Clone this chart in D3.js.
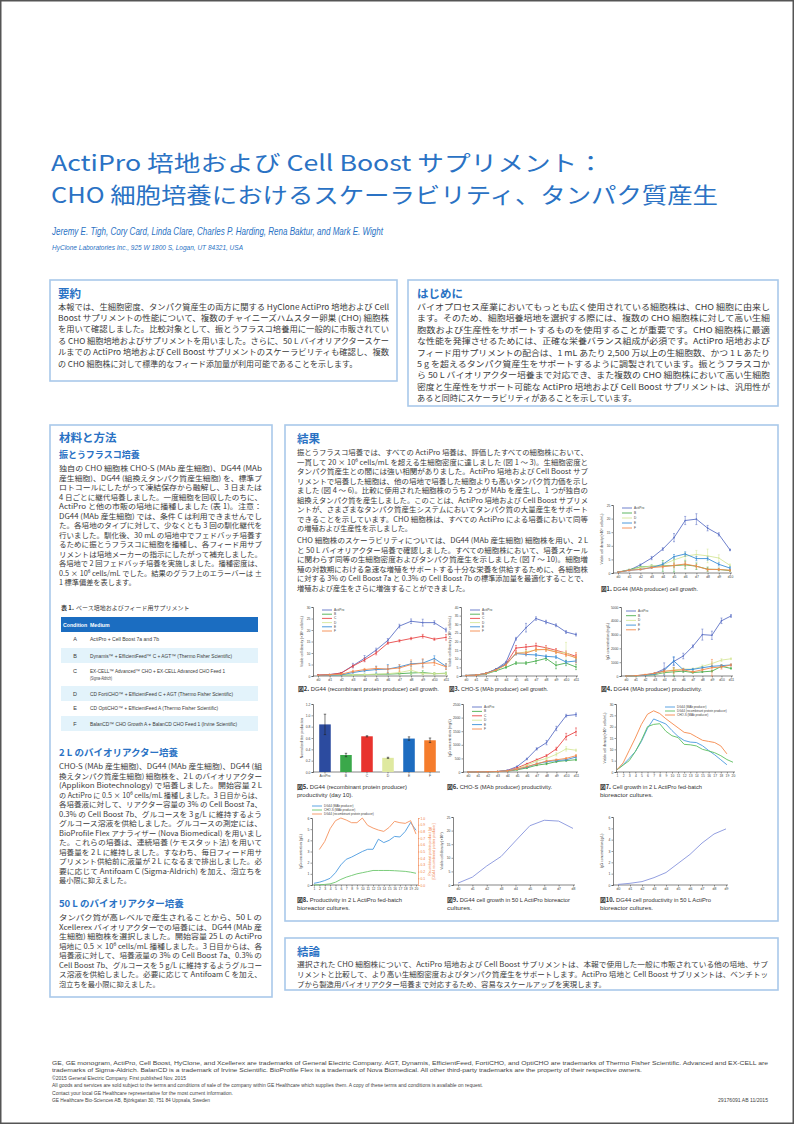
<!DOCTYPE html>
<html><head><meta charset="utf-8">
<script src="https://cdn.jsdelivr.net/npm/d3@7"></script>
<style>body{margin:0;background:#fff}svg{display:block}</style>
</head><body>
<svg id="poster" width="794" height="1124"></svg>
<script>
// ---------------- DATA ----------------
const seriesNames6 = ["ActiPro","B","C","D","E","F"];
const seriesNames5 = ["ActiPro","B","D","E","F"];
const days11 = ["d0","d1","d2","d3","d4","d5","d6","d7","d8","d9","d10"];
const days12 = ["d0","d1","d2","d3","d4","d5","d6","d7","d8","d9","d10","d11"];

// Fig 1: DG44 (MAb producer) cell growth
const fig1Vals = [
  [0.3,1.0,3.0,5.5,8.8,13.0,19.3,19.8,16.5,14.2,8.5],
  [0.3,1.2,2.2,2.5,2.6,2.7,3.0,2.5,1.4,1.3,0.9],
  [0.3,1.0,2.0,2.5,3.0,4.8,6.2,6.8,6.3,5.5,2.8],
  [0.3,1.0,1.3,2.0,3.2,6.0,7.0,5.3,5.3,3.2,1.8],
  [0.3,1.0,1.3,2.0,2.3,2.8,3.3,2.5,1.3,1.3,1.0]];
const fig1Errs = [
  [0.1,0.2,0.3,0.6,0.5,1.5,1.5,2.0,1.0,0.6,0.3],
  [0,0.2,0.3,0.5,2.0,2.3,1.5,1.2,0.8,0.5,0.3],
  [0,0.2,0.3,0.3,0.5,1.0,1.2,1.5,2.5,1.2,0.5],
  [0,0.2,0.2,0.3,0.5,0.8,0.8,0.8,0.6,0.6,0.5],
  [0,0.2,0.2,0.3,0.4,0.8,0.8,0.6,0.5,0.4,0.3]];
// Fig 2: DG44 (recombinant protein producer) cell growth
const fig2Vals = [
  [0.4,0.6,1.3,4.5,7.7,11.3,15.5,21.7,23.8,23.2,23.2,20.0],
  [0.2,0.3,0.4,0.5,0.6,0.7,0.8,1.0,1.3,1.5,1.0,1.2],
  [0.4,0.6,1.3,4.3,7.0,10.0,14.3,15.3,16.3,17.3,16.0,16.8],
  [0.2,0.3,0.4,0.5,0.6,0.8,1.0,1.5,2.5,1.0,1.0,1.0],
  [0.2,0.3,0.5,1.5,2.3,2.8,3.0,4.0,5.3,5.6,7.6,4.2],
  [0.3,0.5,0.8,2.0,2.8,3.3,3.0,3.5,5.0,5.5,5.8,4.0]];
const fig2Errs = [
  [0.1,0.1,0.2,1.0,1.2,0.8,0.8,0.8,1.0,1.5,0.8,0.8],
  [0,0,0.1,0.1,0.2,0.2,0.3,0.5,0.8,0.8,0.5,0.5],
  [0.1,0.1,0.2,0.5,0.8,0.8,0.5,0.5,0.5,0.8,0.5,1.2],
  [0,0,0.1,0.1,0.2,0.3,0.5,1.0,1.5,0.5,0.5,0.5],
  [0,0,0.1,0.3,0.5,1.5,2.0,0.8,1.0,1.5,1.2,1.2],
  [0,0.1,0.2,0.5,0.5,0.8,1.5,1.5,2.0,2.0,1.2,1.2]];
// Fig 3: CHO-S (MAb producer) cell growth
const fig3Vals = [
  [0.3,0.5,1.5,4.0,8.0,21.6,28.0,33.3,31.3,29.4,25.5,24.0],
  [0.3,0.4,1.2,3.0,5.0,7.5,7.5,8.7,10.2,6.2,7.5,5.2],
  [0.3,0.5,1.5,3.8,7.0,16.2,16.8,17.5,16.4,14.9,13.3,11.4],
  [0.3,0.5,1.4,3.5,6.5,13.0,14.0,15.0,15.6,14.0,13.5,10.2],
  [0.3,0.5,1.5,3.8,7.0,13.0,12.5,12.2,11.4,11.0,8.1,8.7],
  [0.3,0.5,1.5,3.5,6.5,13.3,13.3,15.3,15.3,13.9,12.4,10.6]];
const fig3Errs = [
  [0,0.1,0.2,0.3,0.5,0.8,2.5,1.0,1.0,0.8,0.8,0.8],
  [0,0.1,0.2,0.3,0.5,0.8,0.8,1.5,1.2,2.0,1.5,1.5],
  [0,0.1,0.2,0.3,0.5,1.5,1.5,1.5,1.2,1.0,1.2,1.2],
  [0,0.1,0.2,0.3,0.5,0.8,0.8,0.8,1.0,1.0,6.0,1.0],
  [0,0.1,0.2,0.3,0.5,0.8,0.8,0.8,0.8,0.8,1.0,1.0],
  [0,0.1,0.2,0.3,0.5,0.8,1.0,1.0,1.0,1.0,1.0,3.0]];
// Fig 4: DG44 (MAb producer) productivity (mg/L)
const fig4Vals = [
  [0,20,80,200,500,1050,1450,2150,3000,2950,4000,4350],
  [0,10,50,100,250,300,350,250,300,350,700,550],
  [0,20,60,150,300,450,500,500,700,900,1150,1250],
  [0,20,50,150,400,1100,450,480,600,700,750,800],
  [0,20,100,200,350,400,450,300,450,600,650,800]];
const fig4Errs = [
  [0,0,20,50,450,300,200,100,400,300,200,100],
  [0,0,20,30,100,300,100,50,50,60,100,50],
  [0,0,20,30,100,100,80,80,100,120,100,60],
  [0,0,20,30,100,300,80,60,80,80,80,60],
  [0,0,20,30,100,200,80,60,80,600,150,80]];
// Fig 5: DG44 (recombinant protein producer) productivity (day 10)
const fig5Cats = ["ActiPro","B","C","D","E","F"];
const fig5Vals = [0.84,0.30,0.63,0.25,0.59,0.56];
const fig5Errs = [0.18,0.03,0.01,0.01,0.03,0.04];
// Fig 6: CHO-S (MAb producer) productivity (mg/L)
const fig6Vals = [
  [0,5,10,20,60,200,480,850,1080,1600,2070,2110],
  [0,5,10,15,30,80,150,250,300,380,420,450],
  [0,5,10,20,50,150,300,450,600,850,1300,1480],
  [0,5,10,15,40,120,250,400,500,650,850,800],
  [0,5,10,15,40,100,180,300,380,420,450,550],
  [0,5,10,15,40,100,200,300,400,450,500,600]];
const fig6Errs = [
  [0,0,0,0,10,20,30,40,80,80,50,60],
  [0,0,0,0,5,10,20,20,30,30,30,30],
  [0,0,0,0,5,10,20,30,40,60,120,140],
  [0,0,0,0,5,10,20,30,40,60,80,40],
  [0,0,0,0,5,10,20,30,30,30,30,40],
  [0,0,0,0,5,10,20,30,30,30,30,40]];
// Fig 7: 2 L bioreactor cell growth (days 1..20)
const bioDays = ["1","2","3","4","5","6","7","8","9","10","11","12","13","14","15","16","17","18","19","20"];
const fig7Names = ["DG44 (MAb producer)","DG44 (recombinant protein producer)","CHO-S (MAb producer)"];
const fig7DG44mab = [1,3.2,6,9,13.5,19.3,23.4,22.3,21.2,18.3,15.7,13.9,13.2,13,11.6,9.5,7.6,5.4,3.2];
const fig7DG44rec = [1,3,5,9,14,20,21,21.3,18,16,15.2,12.2,12,11.5,10,9.3,8.5,7.2,5.5,4.3];
const fig7CHOS = [1,4,9.5,15,21,25.5,27,25.8,23.5,21.5,19.5,17.5,17,15.5,14,13.5,13,11.5,8];
// Fig 8: 2 L productivity
const fig8Names = ["DG44 (MAb producer)","CHO-S (MAb producer)","DG44 (recombinant protein producer)"];
const fig8DG44mab = [0.15,0.25,0.4,0.6,1.1,1.8,2.3,2.5,2.75,3.0,3.2,3.2,4.1,3.8,4.0,4.35,4.3,4.8,5.6,4.9];
const fig8CHOS = [0,0.02,0.05,0.1,0.25,0.5,0.7,0.85,1.0,1.1,1.2,1.3,1.3,1.3,1.3,1.28,1.25,1.22,1.15,1.05];
const fig8DG44rec = [0.53,0.65,0.84,0.96,1.0,0.97,0.93,0.93,1.0,0.89,0.85,0.82,0.8,0.86,0.95,0.93,0.92,0.96,0.76];
// Fig 9 / 10: 50 L
const fig9Days = ["d0","d1","d2","d3","d4","d5","d6","d7","d8"];
const fig9Vals = [0.7,2.9,7,10.5,16.2,21.8,23.8,23.5,20.8];
const fig10Days = ["d0","d1","d2","d3","d4","d5","d6","d7","d8","d9"];
const fig10Vals = [0.05,0.15,0.3,0.65,1.1,1.9,2.7,3.7,4.5,4.95];

// ---------------- TEXT ----------------
const titleLines = ["ActiPro 培地および Cell Boost サプリメント：","CHO 細胞培養におけるスケーラビリティ、タンパク質産生"];
const authors = "Jeremy E. Tigh, Cory Card, Linda Clare, Charles P. Harding, Rena Baktur, and Mark E. Wight";
const affiliation = "HyClone Laboratories Inc., 925 W 1800 S, Logan, UT 84321, USA";
const abstractLines = [
"本報では、生細胞密度、タンパク質産生の両方に関する HyClone ActiPro 培地および Cell",
"Boost サプリメントの性能について、複数のチャイニーズハムスター卵巣 (CHO) 細胞株",
"を用いて確認しました。比較対象として、振とうフラスコ培養用に一般的に市販されてい",
"る CHO 細胞培地およびサプリメントを用いました。さらに、50 L バイオリアクタースケー",
"ルまでの ActiPro 培地および Cell Boost サプリメントのスケーラビリティも確認し、複数",
"の CHO 細胞株に対して標準的なフィード添加量が利用可能であることを示します。"];
const introLines = [
"バイオプロセス産業においてもっとも広く使用されている細胞株は、CHO 細胞に由来し",
"ます。そのため、細胞培養培地を選択する際には、複数の CHO 細胞株に対して高い生細",
"胞数および生産性をサポートするものを使用することが重要です。CHO 細胞株に最適",
"な性能を発揮させるためには、正確な栄養バランス組成が必須です。ActiPro 培地および",
"フィード用サプリメントの配合は、1 mL あたり 2,500 万以上の生細胞数、かつ 1 L あたり",
"5 g を超えるタンパク質産生をサポートするように調製されています。振とうフラスコか",
"ら 50 L バイオリアクター培養まで対応でき、また複数の CHO 細胞株において高い生細胞",
"密度と生産性をサポート可能な ActiPro 培地および Cell Boost サプリメントは、汎用性が",
"あると同時にスケーラビリティがあることを示しています。"];
const flaskLines = [
"独自の CHO 細胞株 CHO-S (MAb 産生細胞)、DG44 (MAb",
"産生細胞)、DG44 (組換えタンパク質産生細胞) を、標準プ",
"ロトコールにしたがって凍結保存から融解し、3 日または",
"4 日ごとに継代培養しました。一度細胞を回収したのちに、",
"ActiPro と他の市販の培地に播種しました (表 1)。注意：",
"DG44 (MAb 産生細胞) では、条件 C は利用できませんでし",
"た。各培地のタイプに対して、少なくとも 3 回の馴化継代を",
"行いました。馴化後、30 mL の培地中でフェドバッチ培養す",
"るために振とうフラスコに細胞を播種し、各フィード用サプ",
"リメントは培地メーカーの指示にしたがって補充しました。",
"各培地で 2 回フェドバッチ培養を実施しました。播種密度は、",
"0.5 × 10⁶ cells/mL でした。結果のグラフ上のエラーバーは ±",
"1 標準偏差を表します。"];
const tableConds = ["A","B","C","D","E","F"];
const tableMedia = [
 ["ActiPro + Cell Boost 7a and 7b"],
 ["Dynamis™ + EfficientFeed™ C + AGT™ (Thermo Fisher Scientific)"],
 ["EX-CELL™ Advanced™ CHO + EX-CELL Advanced CHO Feed 1","(Sigma-Aldrich)"],
 ["CD FortiCHO™ + EfficientFeed C + AGT (Thermo Fisher Scientific)"],
 ["CD OptiCHO™ + EfficientFeed A (Thermo Fisher Scientific)"],
 ["BalanCD™ CHO Growth A + BalanCD CHO Feed 1 (Irvine Scientific)"]];
const bio2Lines = [
"CHO-S (MAb 産生細胞)、DG44 (MAb 産生細胞)、DG44 (組",
"換えタンパク質産生細胞) 細胞株を、2 L のバイオリアクター",
"(Applikon Biotechnology) で培養しました。開始容量 2 L",
"の ActiPro に 0.5 × 10⁶ cells/mL 播種しました。3 日目からは、",
"各培養液に対して、リアクター容量の 3% の Cell Boost 7a、",
"0.3% の Cell Boost 7b、グルコースを 3 g/L に維持するよう",
"グルコース溶液を供給しました。グルコースの測定には、",
"BioProfile Flex アナライザー (Nova Biomedical) を用いまし",
"た。これらの培養は、連続培養 (ケモスタット法) を用いて",
"培養量を 2 L に維持しました。すなわち、毎日フィード用サ",
"プリメント供給前に液量が 2 L になるまで排出しました。必",
"要に応じて Antifoam C (Sigma-Aldrich) を加え、泡立ちを",
"最小限に抑えました。"];
const bio50Lines = [
"タンパク質が高レベルで産生されることから、50 L の",
"Xcellerex バイオリアクターでの培養には、DG44 (MAb 産",
"生細胞) 細胞株を選択しました。開始容量 25 L の ActiPro",
"培地に 0.5 × 10⁶ cells/mL 播種しました。3 日目からは、各",
"培養液に対して、培養液量の 3% の Cell Boost 7a、0.3% の",
"Cell Boost 7b、グルコースを 5 g/L に維持するようグルコー",
"ス溶液を供給しました。必要に応じて Antifoam C を加え、",
"泡立ちを最小限に抑えました。"];
const results1 = [
"振とうフラスコ培養では、すべての ActiPro 培養は、評価したすべての細胞株において、",
"一貫して 20 × 10⁶ cells/mL を超える生細胞密度に達しました (図 1 ～ 3)。生細胞密度と",
"タンパク質産生との間には強い相関がありました。ActiPro 培地および Cell Boost サプ",
"リメントで培養した細胞は、他の培地で培養した細胞よりも高いタンパク質力価を示し",
"ました (図 4 ～ 6)。比較に使用された細胞株のうち 2 つが MAb を産生し、1 つが独自の",
"組換えタンパク質を産生しました。このことは、ActiPro 培地および Cell Boost サプリメ",
"ントが、さまざまなタンパク質産生システムにおいてタンパク質の大量産生をサポート",
"できることを示しています。CHO 細胞株は、すべての ActiPro による培養において同等",
"の増殖および生産性を示しました。"];
const results2 = [
"CHO 細胞株のスケーラビリティについては、DG44 (MAb 産生細胞) 細胞株を用い、2 L",
"と 50 L バイオリアクター培養で確認しました。すべての細胞株において、培養スケール",
"に関わらず同等の生細胞密度およびタンパク質産生を示しました (図 7 ～ 10)。細胞増",
"殖の対数期における急速な増殖をサポートする十分な栄養を供給するために、各細胞株",
"に対する 3% の Cell Boost 7a と 0.3% の Cell Boost 7b の標準添加量を最適化することで、",
"増殖および産生をさらに増強することができました。"];
const conclLines = [
"選択された CHO 細胞株について、ActiPro 培地および Cell Boost サプリメントは、本報で使用した一般に市販されている他の培地、サプ",
"リメントと比較して、より高い生細胞密度およびタンパク質産生をサポートします。ActiPro 培地と Cell Boost サプリメントは、ベンチトッ",
"プから製造用バイオリアクター培養まで対応するため、容易なスケールアップを実現します。"];
const footerLines = [
"GE, GE monogram, ActiPro, Cell Boost, HyClone, and Xcellerex are trademarks of General Electric Company. AGT, Dynamis, EfficientFeed, FortiCHO, and OptiCHO are trademarks of Thermo Fisher Scientific. Advanced and EX-CELL are",
"trademarks of Sigma-Aldrich. BalanCD is a trademark of Irvine Scientific. BioProfile Flex is a trademark of Nova Biomedical. All other third-party trademarks are the property of their respective owners.",
"©2015 General Electric Company. First published Nov. 2015",
"All goods and services are sold subject to the terms and conditions of sale of the company within GE Healthcare which supplies them. A copy of these terms and conditions is available on request.",
"Contact your local GE Healthcare representative for the most current information.",
"GE Healthcare Bio-Sciences AB, Björkgatan 30, 751 84 Uppsala, Sweden"];
const footerWidths = [716,590,134,431,181,158];
const docCode = "29176091 AB  11/2015";

// ---------------- DRAWING ----------------
const JP = "'Noto Sans CJK JP','Noto Sans',sans-serif";
const LAT = "'Liberation Sans Narrow','Liberation Sans',Arial,sans-serif";
const BLUE = "#2a72c4";
const TXT = "#3a3a3a";
const svg = d3.select("#poster");
const colors6 = {ActiPro:"#5d72c6",B:"#4caf50",C:"#e94848",D:"#d6e79a",E:"#3a8fd8",F:"#f58a4c"};

function txt(g, s, x, y, o = {}) {
  const t = g.append("text").attr("x", x).attr("y", y).text(s)
    .attr("font-family", o.ff || JP).attr("font-size", o.fs || 7.2)
    .attr("fill", o.fill || TXT).attr("font-weight", o.fw || 400)
    .attr("dominant-baseline", "central");
  if (o.w) t.attr("textLength", o.w).attr("lengthAdjust", "spacingAndGlyphs");
  if (o.fst) t.attr("font-style", o.fst);
  if (o.anchor) t.attr("text-anchor", o.anchor);
  if (o.rot) t.attr("transform", `rotate(${o.rot},${x},${y})`);
  return t;
}
function para(g, lines, x, y0, dy, fullW, o = {}) {
  lines.forEach((s, i) => {
    const last = i === lines.length - 1;
    txt(g, s, x, y0 + i * dy, Object.assign({}, o, { w: last ? (o.lastW || null) : fullW }));
  });
}
function box(x, y, w, h) {
  svg.append("rect").attr("x", x).attr("y", y).attr("width", w).attr("height", h)
    .attr("fill", "#fff").attr("stroke", "#a9c9ea").attr("stroke-width", 1.6);
}

svg.append("rect").attr("width", 794).attr("height", 1124).attr("fill", "#fff");
svg.append("rect").attr("x", 0.75).attr("y", 0.75).attr("width", 792.5).attr("height", 1122.5)
  .attr("fill", "none").attr("stroke", "#555").attr("stroke-width", 1.5);

// title
txt(svg, titleLines[0], 51, 160.5, { fs: 22, fill: BLUE, w: 553 });
txt(svg, titleLines[1], 51, 192.5, { fs: 22, fill: BLUE, w: 667 });
txt(svg, authors, 52, 231, { ff: LAT, fs: 10.5, fill: BLUE, fst: "italic", w: 331 });
txt(svg, affiliation, 52, 247, { ff: LAT, fs: 8, fill: BLUE, fst: "italic", w: 191 });

// boxes
box(50, 280, 347, 101);
box(408, 280, 370, 126);
box(50, 425, 222, 572);
box(285, 425, 493, 496);
box(285, 938, 493, 52);

// abstract / intro
txt(svg, "要約", 58, 293, { fs: 11.5, fw: 700, fill: BLUE });
para(svg, abstractLines, 58, 306, 11.4, 331, { fs: 8 });
txt(svg, "はじめに", 417, 293, { fs: 11.5, fw: 700, fill: BLUE });
para(svg, introLines, 417, 306, 11.4, 353, { fs: 8.2 });

// materials
txt(svg, "材料と方法", 59, 437, { fs: 11.5, fw: 700, fill: BLUE });
txt(svg, "振とうフラスコ培養", 59, 454, { fs: 9, fw: 700, fill: BLUE });
para(svg, flaskLines, 59, 468, 9.5, 203, { fs: 7.2 });

// table
const tg = svg.append("g");
txt(tg, "表 1.", 61, 607, { fs: 6, fw: 700 });
txt(tg, "ベース培地およびフィード用サプリメント", 76, 607, { fs: 6 });
tg.append("rect").attr("x", 61).attr("y", 617).attr("width", 197).attr("height", 15).attr("fill", "#1b6dc1");
txt(tg, "Condition", 63, 624.5, { ff: LAT, fs: 5.2, fw: 700, fill: "#fff" });
txt(tg, "Medium", 90, 624.5, { ff: LAT, fs: 5.2, fw: 700, fill: "#fff" });
const rowY = [[639],[655.5],[671,677.5],[693.5],[708],[723.5]];
const bands = [[648,15],[686,15],[716,15]];
bands.forEach(b => tg.append("rect").attr("x", 61).attr("y", b[0]).attr("width", 197).attr("height", b[1]).attr("fill", "#e3f3fb"));
const medW = [[69],[142],[135,22],[143],[128],[147]];
tableConds.forEach((c, i) => {
  txt(tg, c, 75, rowY[i][0], { ff: LAT, fs: 5.5, anchor: "middle" });
  tableMedia[i].forEach((m, j) => txt(tg, m, 90, rowY[i][j], { ff: LAT, fs: 5.2, w: medW[i][j] }));
});

txt(svg, "2 L のバイオリアクター培養", 59, 752, { fs: 9.5, fw: 700, fill: BLUE });
para(svg, bio2Lines, 59, 766, 9.5, 203, { fs: 7.2 });
txt(svg, "50 L のバイオリアクター培養", 59, 903, { fs: 9.5, fw: 700, fill: BLUE });
para(svg, bio50Lines, 59, 917, 9.5, 203, { fs: 7.2 });

// results text
txt(svg, "結果", 297, 438, { fs: 11.5, fw: 700, fill: BLUE });
para(svg, results1, 297, 452, 9.5, 291, { fs: 7.2 });
para(svg, results2, 297, 540, 9.5, 291, { fs: 7.2 });

// conclusion
txt(svg, "結論", 297, 951, { fs: 11.5, fw: 700, fill: BLUE });
para(svg, conclLines, 297, 963, 10.3, 471, { fs: 7.4 });

// footer
footerLines.forEach((s, i) => txt(svg, s, 52, 1063 + i * 7.4, { ff: LAT, fs: 5.3, w: footerWidths[i], fill: "#444" }));
txt(svg, docCode, 718, 1100, { ff: LAT, fs: 5.3, w: 50, fill: "#444" });

// ---------------- CHARTS ----------------
function styleAxis(a) {
  a.select(".domain").attr("stroke", "#333").attr("stroke-width", 0.6);
  a.selectAll(".tick line").attr("stroke", "#333").attr("stroke-width", 0.5);
  a.selectAll("text").attr("font-family", LAT).attr("font-size", 3.4).attr("fill", "#444");
}
function lineChart(c) {
  const g = svg.append("g");
  const x = d3.scalePoint().domain(c.xLabels).range([c.x0 + (c.pl ?? 5), c.x1 - (c.pr ?? 2)]);
  const y = d3.scaleLinear().domain(c.yDomain).range([c.y1, c.y0]);
  const ya = g.append("g").attr("transform", `translate(${c.x0},0)`)
    .call(d3.axisLeft(y).tickValues(c.yTicks).tickSize(1.5).tickPadding(1).tickFormat(c.yFmt || (d => d)));
  styleAxis(ya);
  const xa = g.append("g").attr("transform", `translate(0,${c.y1})`)
    .call(d3.axisBottom(x).tickSize(1.5).tickPadding(1));
  styleAxis(xa);
  xa.select(".domain").remove();
  g.append("line").attr("x1", c.x0).attr("x2", c.x1).attr("y1", c.y1).attr("y2", c.y1).attr("stroke", "#333").attr("stroke-width", 0.6);
  c.series.forEach(s => {
    const yy = s.scale || y;
    const pts = s.vals.map((v, i) => ({ x: x(c.xLabels[i + (s.off || 0)]), v, e: s.errs ? s.errs[i] : 0 }));
    g.append("path").attr("d", d3.line().x(d => d.x).y(d => yy(d.v))(pts))
      .attr("fill", "none").attr("stroke", s.color).attr("stroke-width", c.lw || 0.9);
    if (s.errs) pts.forEach(p => {
      if (!p.e) return;
      const eg = g.append("g").attr("stroke", s.color).attr("stroke-width", 0.55);
      eg.append("line").attr("x1", p.x).attr("x2", p.x).attr("y1", yy(p.v - p.e)).attr("y2", yy(p.v + p.e));
      [p.v - p.e, p.v + p.e].forEach(v => eg.append("line").attr("x1", p.x - 1).attr("x2", p.x + 1).attr("y1", yy(v)).attr("y2", yy(v)));
    });
    if (c.markers) pts.forEach(p => g.append("circle").attr("cx", p.x).attr("cy", yy(p.v)).attr("r", 0.8).attr("fill", s.color));
  });
  if (c.legend) c.series.forEach((s, i) => {
    const ly = c.legend.y + i * c.legend.dy;
    g.append("line").attr("x1", c.legend.x).attr("x2", c.legend.x + (c.legend.len || 10)).attr("y1", ly).attr("y2", ly)
      .attr("stroke", s.color).attr("stroke-width", 0.9);
    txt(g, s.name, c.legend.x + (c.legend.len || 10) + 2, ly, { ff: LAT, fs: c.legend.fs || 3.2, fill: "#444" });
  });
  if (c.yTitle) txt(g, c.yTitle, c.x0 - (c.yTitleOff || 11), (c.y0 + c.y1) / 2, { ff: LAT, fs: 3.4, fill: "#444", anchor: "middle", rot: -90 });
  return { g, x, y };
}
function caption(num, rest, x, y, w, line2, w2) {
  const t = txt(svg, "", x, y, { ff: LAT, fs: 6.2, fill: "#333", w });
  t.append("tspan").attr("font-weight", 700).attr("font-family", JP).text("図" + num + ".");
  t.append("tspan").text(" " + rest);
  if (line2) txt(svg, line2, x, y + 8.6, { ff: LAT, fs: 6.2, fill: "#333", w: w2 });
}
function mkSeries(names, vals, errs) {
  return names.map((n, i) => ({ name: n, color: colors6[n], vals: vals[i], errs: errs ? errs[i] : null }));
}

// Fig 1
lineChart({ x0: 613, x1: 732, y0: 505, y1: 573, xLabels: days11, yDomain: [0, 25], yTicks: [0,5,10,15,20,25],
  series: mkSeries(seriesNames5, fig1Vals, fig1Errs), markers: true,
  legend: { x: 622, y: 508, dy: 5 }, yTitle: "Viable cell density (×10⁶ cells/mL)" });
caption(1, "DG44 (MAb producer) cell growth.", 601, 588, 97);
// Fig 2
lineChart({ x0: 313, x1: 448, y0: 607, y1: 676, xLabels: days12, yDomain: [0, 30], yTicks: [0,5,10,15,20,25,30],
  series: mkSeries(seriesNames6, fig2Vals, fig2Errs), markers: true,
  legend: { x: 322, y: 610, dy: 4.2 }, yTitle: "Viable cell density (×10⁶ cells/mL)" });
caption(2, "DG44 (recombinant protein producer) cell growth.", 298, 688, 141);
// Fig 3
lineChart({ x0: 461, x1: 578, y0: 607, y1: 676, xLabels: days12, yDomain: [0, 40], yTicks: [0,5,10,15,20,25,30,35,40],
  series: mkSeries(seriesNames6, fig3Vals, fig3Errs), markers: true,
  legend: { x: 470, y: 610, dy: 4.2 }, yTitle: "Viable cell density (×10⁶ cells/mL)" });
caption(3, "CHO-S (MAb producer) cell growth.", 449, 688, 99);
// Fig 4
lineChart({ x0: 621, x1: 733, y0: 607, y1: 676, xLabels: days12, yDomain: [0, 5000], yTicks: [0,1000,2000,3000,4000,5000],
  series: mkSeries(seriesNames5, fig4Vals, fig4Errs), markers: true,
  legend: { x: 626, y: 611, dy: 4.7 }, yTitle: "IgG concentration (mg/L)", yTitleOff: 13 });
caption(4, "DG44 (MAb producer) productivity.", 601, 688, 101);

// Fig 5 bar chart
(function () {
  const g = svg.append("g");
  const x0 = 313, x1 = 440, y0 = 704, y1 = 772;
  const x = d3.scaleBand().domain(fig5Cats).range([x0 + 2, x1]).paddingInner(0.45).paddingOuter(0.2);
  const y = d3.scaleLinear().domain([0, 1.2]).range([y1, y0]);
  const ya = g.append("g").attr("transform", `translate(${x0},0)`)
    .call(d3.axisLeft(y).tickValues([0,0.2,0.4,0.6,0.8,1.0,1.2]).tickSize(1.5).tickPadding(1).tickFormat(d3.format(".1f")));
  styleAxis(ya);
  const xa = g.append("g").attr("transform", `translate(0,${y1})`).call(d3.axisBottom(x).tickSize(1.5).tickPadding(1));
  styleAxis(xa);
  xa.select(".domain").remove();
  g.append("line").attr("x1", x0).attr("x2", x1).attr("y1", y1).attr("y2", y1).attr("stroke", "#333").attr("stroke-width", 0.6);
  const barCols = ["#2c4b9f","#3aa84a","#e8332e","#dfe9a0","#1d6cc0","#f57c2c"];
  fig5Cats.forEach((c, i) => {
    g.append("rect").attr("x", x(c)).attr("y", y(fig5Vals[i])).attr("width", x.bandwidth()).attr("height", y1 - y(fig5Vals[i])).attr("fill", barCols[i]);
    const cx = x(c) + x.bandwidth() / 2;
    const eg = g.append("g").attr("stroke", "#222").attr("stroke-width", 0.6);
    eg.append("line").attr("x1", cx).attr("x2", cx).attr("y1", y(fig5Vals[i] - fig5Errs[i])).attr("y2", y(fig5Vals[i] + fig5Errs[i]));
    [fig5Vals[i] - fig5Errs[i], fig5Vals[i] + fig5Errs[i]].forEach(v => eg.append("line").attr("x1", cx - 1.2).attr("x2", cx + 1.2).attr("y1", y(v)).attr("y2", y(v)));
  });
  txt(g, "Normalized titer production", x0 - 11, (y0 + y1) / 2, { ff: LAT, fs: 3.4, fill: "#444", anchor: "middle", rot: -90 });
})();
caption(5, "DG44 (recombinant protein producer)", 297, 786, 110, "productivity (day 10).", 56);
// Fig 6
lineChart({ x0: 463, x1: 578, y0: 704, y1: 772, xLabels: days12, yDomain: [0, 2500], yTicks: [0,500,1000,1500,2000,2500],
  series: mkSeries(seriesNames6, fig6Vals, fig6Errs), markers: true,
  legend: { x: 472, y: 707, dy: 4.4 }, yTitle: "IgG concentration (mg/L)", yTitleOff: 13 });
caption(6, "CHO-S (MAb producer) productivity.", 447, 786, 105);
// Fig 7
lineChart({ x0: 616, x1: 735, y0: 704, y1: 772, xLabels: bioDays, yDomain: [0, 30], yTicks: [0,5,10,15,20,25,30], pl: 1, pr: 2,
  series: [
    { name: fig7Names[0], color: "#4a9ae0", vals: fig7DG44mab },
    { name: fig7Names[1], color: "#5cbf60", vals: fig7DG44rec },
    { name: fig7Names[2], color: "#f5884a", vals: fig7CHOS }],
  legend: { x: 665, y: 707, dy: 4, len: 10, fs: 3 }, yTitle: "Viable cell density (×10⁶ cells/mL)" });
caption(7, "Cell growth in 2 L ActiPro fed-batch", 600, 786, 102, "bioreactor cultures.", 53);
// Fig 8 (dual axis)
(function () {
  const x0 = 312, x1 = 418, y0 = 818, y1 = 885;
  const yR = d3.scaleLinear().domain([0, 1.0]).range([y1, y0]);
  const r = lineChart({ x0, x1, y0, y1, xLabels: bioDays, yDomain: [0, 6], yTicks: [0,1,2,3,4,5,6], pl: 2, pr: 2,
    series: [
      { name: fig8Names[0], color: "#4a9ae0", vals: fig8DG44mab },
      { name: fig8Names[1], color: "#6cc66c", vals: fig8CHOS },
      { name: fig8Names[2], color: "#f5925e", vals: fig8DG44rec, scale: yR, off: 1 }],
    legend: { x: 312, y: 806, dy: 4, len: 10, fs: 3 }, yTitle: "IgG concentration (g/L)" });
  const ra = r.g.append("g").attr("transform", `translate(${x1},0)`)
    .call(d3.axisRight(yR).tickValues(d3.range(0, 1.01, 0.1)).tickSize(1.5).tickPadding(1).tickFormat(d3.format(".1f")));
  styleAxis(ra);
  ra.select(".domain").attr("stroke", "#f07a40");
  ra.selectAll("text").attr("fill", "#f07a40");
  ra.selectAll(".tick line").attr("stroke", "#f07a40");
  txt(r.g, "Recombinant protein product (g)", x1 + 12, (y0 + y1) / 2, { ff: LAT, fs: 3.4, fill: "#f07a40", anchor: "middle", rot: -90 });
  txt(r.g, "[DG44 recombinant protein producer]", x1 + 16, (y0 + y1) / 2, { ff: LAT, fs: 3.4, fill: "#f07a40", anchor: "middle", rot: -90 });
})();
caption(8, "Productivity in 2 L ActiPro fed-batch", 297, 899, 105, "bioreactor cultures.", 53);
// Fig 9
lineChart({ x0: 453, x1: 575, y0: 817, y1: 885, xLabels: fig9Days, yDomain: [0, 25], yTicks: [0,5,10,15,20,25], pl: 5, pr: 2,
  series: [{ name: "DG44", color: "#8794dc", vals: fig9Vals }], yTitle: "Viable cell density (×10⁶)" });
caption(9, "DG44 cell growth in 50 L ActiPro bioreactor", 447, 899, 123, "cultures.", 25);
// Fig 10
lineChart({ x0: 613, x1: 728, y0: 817, y1: 885, xLabels: fig10Days, yDomain: [0, 6], yTicks: [0,1,2,3,4,5,6], pl: 5, pr: 2,
  series: [{ name: "DG44", color: "#8794dc", vals: fig10Vals }], yTitle: "IgG concentration (g/L)" });
caption(10, "DG44 cell productivity in 50 L ActiPro", 600, 899, 111, "bioreactor cultures.", 53);
</script>
</body></html>
